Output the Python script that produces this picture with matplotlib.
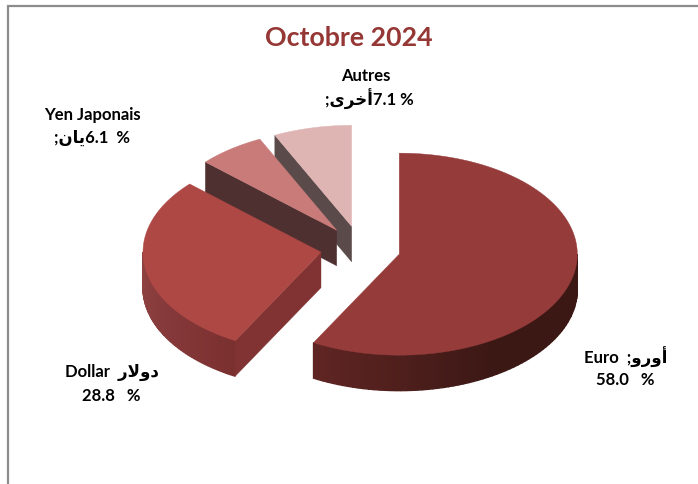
import numpy as np
import matplotlib
matplotlib.use('Agg')
import matplotlib.pyplot as plt
from matplotlib.colors import to_rgb
from matplotlib.patches import Polygon

plt.rcParams['font.family'] = ['Lato', 'DejaVu Sans']

# Data
categories = ['Euro', 'Dollar', 'Yen Japonais', 'Autres']
values = [58.0, 28.8, 6.1, 7.1]

# Arabic names in presentation forms, visual order (matplotlib does no shaping)
ar_euro = '\uFEED\uFEAD\uFEED\uFE83'
ar_dollar = '\uFEAD\uFEFB\uFEED\uFEA9'
ar_yen = '\uFEE5\uFE8E\uFEF3'
ar_autres = '\uFEEF\uFEAE\uFEA7\uFE83'

# Pie layout, in pixels
cx, cy = 360.5, 248.5
rx, ry = 178, 101
depth = 35.5
explode = 0.225

top_colors = ['#953B3A', '#AE4845', '#C87B79', '#DFB5B4']
wall_colors = ['#5F2523', '#803332', '#4F3030', '#5A4A4A']
rim_stops = [('#3C1815', '#3C1815', '#5F2523'), ('#7B3030', '#86393A', '#8F4341'), None, None]

fig = plt.figure(figsize=(6.98, 4.84), dpi=100)
ax = fig.add_axes([0, 0, 1, 1])
ax.set_xlim(0, 698)
ax.set_ylim(484, 0)
ax.axis('off')

# frame of the chart area
ax.plot([8, 8, 698], [484, 5.5, 5.5], color='#8C8C8C', lw=1.6, solid_joinstyle='miter')


def pt(ox, oy, a):
    return ox + rx * np.sin(a), oy - ry * np.cos(a)


def poly(points, color, z, lw=0.3):
    ax.add_patch(Polygon(points, closed=True, facecolor=color, edgecolor=color, lw=lw, zorder=z))


# angles run clockwise from the top, slices start at 12 o'clock
edges = np.radians(np.concatenate([[0], np.cumsum(values)]) * 3.6)

for i in [3, 2, 1, 0]:
    a0, a1 = edges[i], edges[i + 1]
    mid = (a0 + a1) / 2
    ox, oy = pt(cx, cy, mid)
    ox = cx + explode * (ox - cx)
    oy = cy + explode * (oy - cy)
    z = 10 - i

    # flat cut faces seen from the front
    if np.sin(a0) < -1e-6:
        x0, y0 = pt(ox, oy, a0)
        poly([(ox, oy), (x0, y0), (x0, y0 + depth), (ox, oy + depth)], wall_colors[i], z + 0.1)
    if np.sin(a1) > 1e-6:
        x1, y1 = pt(ox, oy, a1)
        poly([(ox, oy), (x1, y1), (x1, y1 + depth), (ox, oy + depth)], wall_colors[i], z + 0.1)

    # outer rim, only the front half of the ellipse shows
    lo, hi = max(a0, np.pi / 2), min(a1, 3 * np.pi / 2)
    if hi > lo and rim_stops[i] is not None:
        steps = np.linspace(lo, hi, 70)
        stops = np.array([to_rgb(c) for c in rim_stops[i]])
        for j in range(len(steps) - 1):
            s = j / (len(steps) - 2)
            rgb = [np.interp(s, [0, 0.5, 1], stops[:, k]) for k in range(3)]
            xa, ya = pt(ox, oy, steps[j])
            xb, yb = pt(ox, oy, steps[j + 1])
            # thicker edge closes the seams between the strips
            poly([(xa, ya), (xb, yb), (xb, yb + depth), (xa, ya + depth)], rgb, z, lw=1.0)

    # top of the slice
    arc = np.linspace(a0, a1, 120)
    xs, ys = pt(ox, oy, arc)
    poly([(ox, oy)] + list(zip(xs, ys)), top_colors[i], z + 0.5)

ax.text(348.5, 38, 'Octobre 2024', color='#953735', fontsize=19.3, fontweight='bold', ha='center', va='center')


def label(x, y, s):
    ax.text(x, y, s, color='black', fontsize=12, fontweight='bold', ha='center', va='center', zorder=20)


label(366, 76, categories[3])
label(369, 99, ';' + ar_autres + f'{values[3]:.1f} %')
label(92, 115, categories[2])
label(92, 138, ';' + ar_yen + f'{values[2]:.1f}  %')
label(112, 372, categories[1] + '  ' + ar_dollar)
label(111, 396, f'{values[1]:.1f}   %')
label(626, 357, categories[0] + '  ;' + ar_euro)
label(625, 380, f'{values[0]:.1f}   %')

fig.savefig('out.png', dpi=100, facecolor='white')
